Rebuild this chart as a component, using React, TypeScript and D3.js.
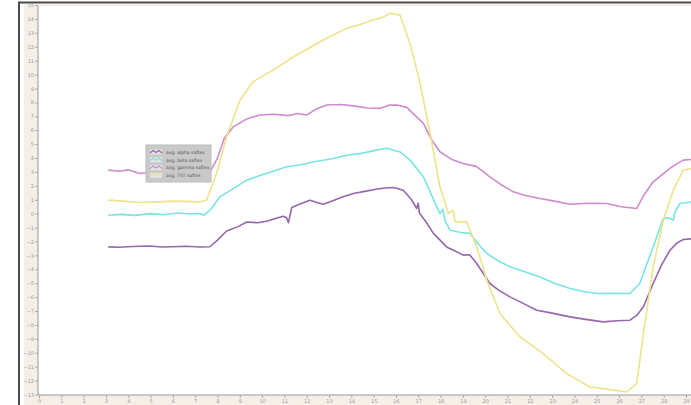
import React, { useEffect, useRef } from 'react';
import * as d3 from 'd3';

// valores: [x, y]
const alphaPts: [number, number][] = [
  [3.1, -2.39], [3.6, -2.42], [4.2, -2.36], [4.97, -2.33], [5.5, -2.4], [6.0, -2.38], [6.6, -2.34],
  [7.2, -2.4], [7.66, -2.38], [8.0, -1.9], [8.41, -1.25], [8.9, -0.95], [9.31, -0.6], [9.8, -0.65],
  [10.2, -0.55], [10.6, -0.35], [10.95, -0.18], [11.1, -0.3], [11.18, -0.65], [11.33, 0.45], [11.7, 0.7],
  [12.15, 0.97], [12.45, 0.8], [12.74, 0.68], [13.2, 0.95], [13.6, 1.2], [14.09, 1.45], [14.6, 1.6],
  [15.1, 1.75], [15.5, 1.85], [15.9, 1.88], [16.33, 1.68], [16.7, 1.0], [16.93, 0.37], [17.0, 0.75],
  [17.05, 0.05], [17.35, -0.6], [17.68, -1.42], [18.27, -2.39], [18.6, -2.65], [19.02, -2.98],
  [19.3, -2.95], [19.62, -3.58], [20.21, -5.02], [20.6, -5.5], [21.11, -5.98], [21.7, -6.45],
  [22.31, -6.94], [23.0, -7.15], [23.8, -7.42], [24.5, -7.6], [25.29, -7.78], [25.9, -7.7],
  [26.49, -7.66], [26.8, -7.3], [27.09, -6.7], [27.53, -5.02], [27.9, -3.7], [28.28, -2.63],
  [28.6, -2.1], [28.88, -1.86], [29.3, -1.8],
];

const betaPts: [number, number][] = [
  [3.1, -0.11], [3.7, -0.05], [4.3, -0.12], [5.0, 0.0], [5.6, -0.08], [6.2, 0.05], [6.8, -0.02],
  [7.22, 0.01], [7.4, -0.11], [7.7, 0.3], [8.11, 1.21], [8.7, 1.8], [9.31, 2.41], [10.0, 2.8],
  [10.5, 3.05], [11.1, 3.37], [11.7, 3.5], [12.4, 3.75], [13.19, 3.97], [13.8, 4.2], [14.5, 4.35],
  [15.28, 4.62], [15.6, 4.7], [16.0, 4.5], [16.18, 4.45], [16.63, 3.85], [17.23, 2.65], [17.83, 0.49],
  [17.97, 0.01], [18.1, 0.3], [18.2, -0.5], [18.42, -1.19], [18.9, -1.35], [19.32, -1.42], [19.7, -2.2],
  [20.07, -2.86], [20.6, -3.4], [21.11, -3.82], [21.8, -4.2], [22.46, -4.55], [23.1, -5.0], [23.8, -5.38],
  [24.4, -5.6], [25.0, -5.74], [25.8, -5.72], [26.49, -5.74], [26.93, -5.02], [27.2, -3.8], [27.53, -2.39],
  [27.98, -0.35], [28.2, -0.3], [28.43, -0.47], [28.5, 0.1], [28.73, 0.73], [29.3, 0.85],
];

const gammaPts: [number, number][] = [
  [3.1, 3.13], [3.6, 3.05], [4.0, 3.15], [4.5, 2.89], [5.2, 3.0], [5.8, 2.95], [6.5, 3.05], [7.1, 3.0],
  [7.66, 2.99], [8.0, 4.0], [8.3, 5.4], [8.71, 6.24], [9.3, 6.8], [9.9, 7.09], [10.5, 7.15], [11.2, 7.05],
  [11.6, 7.2], [12.0, 7.09], [12.4, 7.5], [12.9, 7.81], [13.5, 7.85], [14.1, 7.75], [14.7, 7.6],
  [15.3, 7.57], [15.7, 7.8], [16.03, 7.81], [16.48, 7.64], [17.23, 6.49], [17.6, 5.3], [17.97, 4.45],
  [18.5, 3.9], [19.02, 3.61], [19.6, 3.4], [20.21, 2.65], [20.7, 2.1], [21.26, 1.57], [21.8, 1.3],
  [22.46, 1.09], [23.1, 0.9], [23.8, 0.68], [24.6, 0.75], [25.44, 0.73], [26.1, 0.5], [26.79, 0.37],
  [27.1, 1.3], [27.53, 2.29], [28.28, 3.25], [28.6, 3.6], [28.88, 3.85], [29.3, 3.9],
];

const tstPts: [number, number][] = [
  [3.1, 0.97], [3.8, 0.9], [4.53, 0.8], [5.3, 0.85], [6.0, 0.9], [6.6, 0.88], [7.22, 0.85], [7.51, 0.97],
  [7.96, 2.89], [8.41, 5.53], [9.01, 8.17], [9.6, 9.49], [10.5, 10.32], [11.4, 11.28], [12.0, 11.8],
  [12.6, 12.36], [13.2, 12.85], [13.79, 13.32], [14.4, 13.6], [14.98, 13.92], [15.4, 14.1], [15.73, 14.4],
  [16.18, 14.28], [16.63, 12.24], [17.08, 9.37], [17.53, 5.77], [17.97, 1.93], [18.35, 0.01], [18.57, 0.25],
  [18.65, -0.59], [19.17, -0.59], [19.62, -2.39], [20.07, -4.78], [20.66, -7.18], [21.56, -8.86],
  [22.6, -10.06], [23.65, -11.5], [24.7, -12.46], [25.59, -12.65], [26.34, -12.82], [26.79, -12.22],
  [27.09, -8.62], [27.53, -3.83], [27.98, -0.47], [28.43, 1.69], [28.88, 3.13], [29.3, 3.25],
];

const seriesNames = ['avg. alpha saftex', 'avg. beta saftex', 'avg. gamma saftex', 'avg. TST saftex'];
const seriesColors = ['#9467ae', '#78e4e4', '#cf8ad0', '#eee28a'];
const seriesData = [alphaPts, betaPts, gammaPts, tstPts];

const xTicks = d3.range(0, 30);
const yTicks = d3.range(-13, 16);

const App = () => {
  const chartRef = useRef<SVGSVGElement>(null);

  useEffect(() => {
    const W = 691;
    const H = 405;
    const plot = { left: 38, top: 6, right: 691, bottom: 395 };

    const svg = d3.select(chartRef.current);
    svg.selectAll('*').remove();
    svg.attr('width', W).attr('height', H);

    // fundo e moldura
    svg.append('rect').attr('width', W).attr('height', H).attr('fill', '#fff');
    svg.append('rect').attr('x', 24).attr('y', 4).attr('width', W - 24).attr('height', H - 4).attr('fill', '#f6efe7');
    svg.append('rect').attr('x', plot.left).attr('y', plot.top)
      .attr('width', plot.right - plot.left).attr('height', plot.bottom - plot.top).attr('fill', '#fff');
    svg.append('line').attr('x1', 19).attr('x2', 19).attr('y1', 2).attr('y2', H)
      .attr('stroke', '#4a4a4a').attr('stroke-width', 2);
    svg.append('line').attr('x1', 18).attr('x2', W).attr('y1', 2.5).attr('y2', 2.5)
      .attr('stroke', '#4a4a4a').attr('stroke-width', 2);

    const x = d3.scaleLinear().domain([0, 29]).range([39, 686]);
    const y = d3.scaleLinear().domain([-13, 15]).range([394.5, 5]);

    svg.append('defs').append('clipPath').attr('id', 'plotClip')
      .append('rect').attr('x', plot.left).attr('y', plot.top)
      .attr('width', plot.right - plot.left).attr('height', plot.bottom - plot.top);

    // eixo Y
    const yAxis = svg.append('g').attr('transform', `translate(${plot.left},0)`)
      .call(d3.axisLeft(y).tickValues(yTicks).tickSize(3).tickPadding(1).tickFormat(d3.format('d')));
    yAxis.select('.domain').attr('stroke', '#999').attr('d', `M0,${plot.top}V${plot.bottom}`);
    yAxis.selectAll('.tick line').attr('stroke', '#aaa');
    yAxis.selectAll('text').attr('fill', '#999').style('font-size', '5px').style('font-family', 'DejaVu Sans');

    // eixo X
    const xAxis = svg.append('g').attr('transform', `translate(0,${plot.bottom})`)
      .call(d3.axisBottom(x).tickValues(xTicks).tickSize(3).tickPadding(1).tickFormat(d3.format('d')));
    xAxis.select('.domain').attr('stroke', '#999').attr('d', `M${plot.left},0H${plot.right}`);
    xAxis.selectAll('.tick line').attr('stroke', '#aaa');
    xAxis.selectAll('text').attr('fill', '#999').style('font-size', '5px').style('font-family', 'DejaVu Sans');

    // linhas
    const line = d3.line<[number, number]>().x(d => x(d[0])).y(d => y(d[1]));
    const lines = svg.append('g').attr('clip-path', 'url(#plotClip)');
    seriesData.forEach((pts, i) => {
      lines.append('path')
        .datum(pts)
        .attr('d', line)
        .attr('fill', 'none')
        .attr('stroke', seriesColors[i])
        .attr('stroke-width', 1.6)
        .attr('stroke-linejoin', 'round');
    });

    // legenda
    const lg = svg.append('g').attr('transform', 'translate(146,145)');
    lg.append('rect').attr('width', 65).attr('height', 37).attr('fill', '#c9c9c9').attr('stroke', '#bcbcbc');
    seriesNames.forEach((name, i) => {
      const row = lg.append('g').attr('transform', `translate(4,${7 + i * 7.8})`);
      row.append('rect').attr('x', 0).attr('y', -2.5).attr('width', 12).attr('height', 5)
        .attr('fill', '#e4e4e4');
      row.append('path').attr('d', 'M0,1 L3,-1.5 L6,0.5 L9,-1.5 L12,1')
        .attr('fill', 'none').attr('stroke', seriesColors[i]).attr('stroke-width', 1.2);
      row.append('text').attr('x', 16).attr('y', 1.7).text(name)
        .attr('fill', '#555').style('font-size', '4.5px').style('font-family', 'DejaVu Sans');
    });
  }, []);

  return <svg ref={chartRef} style={{ position: 'absolute', left: 0, top: 0 }}></svg>;
};

export default App;
